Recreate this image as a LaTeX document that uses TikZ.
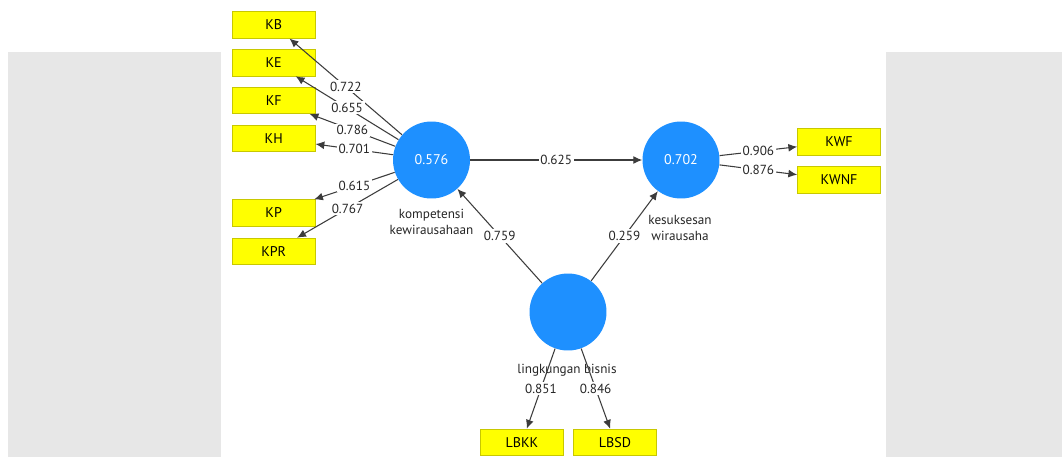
\documentclass[tikz,border=0pt]{standalone}
\usepackage{fontspec}
\setmainfont{PT Sans}
\usetikzlibrary{arrows.meta}
\definecolor{latentblue}{RGB}{30,144,255}
\definecolor{indyellow}{RGB}{255,255,0}
\definecolor{indborder}{RGB}{200,200,0}
\definecolor{panelgrey}{RGB}{231,231,231}
\definecolor{linegrey}{RGB}{60,60,60}

\begin{document}
\begin{tikzpicture}[
					x = 0.02cm, y = -0.02cm,
					every node/.style = {
						font = \fontsize{7.5}{9}\selectfont,
					},
					indicator/.style = {
						shape = rectangle,
						draw = indborder,
						fill = indyellow,
						minimum width = 1.66cm,
						minimum height = 0.53cm,
						inner sep = 0pt,
						font = \fontsize{8}{9}\selectfont,
					},
					latent/.style = {
						shape = circle,
						fill = latentblue,
						minimum size = 1.54cm,
						inner sep = 0pt,
						text = white,
						font = \fontsize{8}{9}\selectfont,
					},
					caption/.style = {align = center, inner sep = 0pt, text = black!85},
					weight/.style = {midway, fill = white, inner sep = 1pt, text = black!85},
					link/.style = {draw = linegrey, line width = 0.6pt, -{Latex[length = 5pt, width = 4.5pt]}},
			]
				\useasboundingbox (0, 0) rectangle (1062, 457);
				\fill[white] (0, 0) rectangle (1062, 457);
				\fill[panelgrey] (8, 52) rectangle (221, 457);
				\fill[panelgrey] (886, 52) rectangle (1062, 457);

				\draw (431.5, 160) node (kk) [latent] {0.576};
				\draw (681, 160) node (kw) [latent] {0.702};
				\draw (568, 312) node (lb) [latent] {};

				\draw (431.5, 222) node (kkname) [caption] {kompetensi\\kewirausahaan};
				\draw (680, 228) node (kwname) [caption] {kesuksesan\\wirausaha};
				\draw (567, 370) node (lbname) [caption] {lingkungan bisnis};

				\draw (273.7, 25) node (KB) [indicator] {KB};
				\draw (273.7, 62.7) node (KE) [indicator] {KE};
				\draw (273.7, 100.3) node (KF) [indicator] {KF};
				\draw (273.7, 138.3) node (KH) [indicator] {KH};
				\draw (273.7, 213) node (KP) [indicator] {KP};
				\draw (273.7, 251.3) node (KPR) [indicator] {KPR};
				\draw (839, 142) node (KWF) [indicator] {KWF};
				\draw (839, 180) node (KWNF) [indicator] {KWNF};
				\draw (522, 442.3) node (LBKK) [indicator] {LBKK};
				\draw (615, 442.3) node (LBSD) [indicator] {LBSD};

				\draw[link] (kk) -- (KB) node [weight] {0.722};
				\draw[link] (kk) -- (KE) node [weight] {0.655};
				\draw[link] (kk) -- (KF) node [weight] {0.786};
				\draw[link] (kk) -- (KH) node [weight] {0.701};
				\draw[link] (kk) -- (KP) node [weight] {0.615};
				\draw[link] (kk) -- (KPR) node [weight] {0.767};

				\draw[link] (kk) -- (kw) node [weight] {0.625};
				\draw[link] (lb) -- (kk) node [weight] {0.759};
				\draw[link] (lb) -- (kw) node [weight] {0.259};

				\draw[link] (kw) -- (KWF) node [weight] {0.906};
				\draw[link] (kw) -- (KWNF) node [weight] {0.876};
				\draw[link] (lb) -- (LBKK) node [weight] {0.851};
				\draw[link] (lb) -- (LBSD) node [weight] {0.846};
			\end{tikzpicture}
\end{document}
